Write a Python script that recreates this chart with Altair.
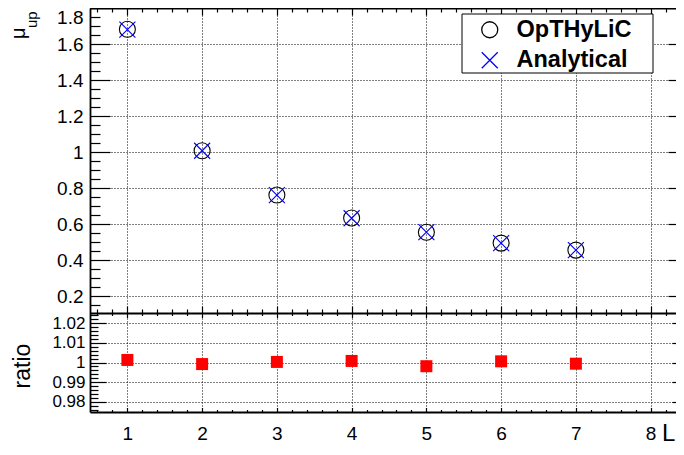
import altair as alt
import pandas as pd

# ---------------- data ----------------
categories = [1, 2, 3, 4, 5, 6, 7]
opthylic = [1.682, 1.007, 0.761, 0.633, 0.554, 0.494, 0.455]
analytical = [1.680, 1.007, 0.761, 0.632, 0.555, 0.494, 0.455]
ratio = [1.0013, 0.9992, 1.0003, 1.0008, 0.9981, 1.0006, 0.9994]
series_names = ["OpTHyLiC", "Analytical"]

x_major = [1, 2, 3, 4, 5, 6, 7, 8]
x_minor = [round(0.6 + 0.2 * i, 1) for i in range(40) if abs((0.6 + 0.2 * i) - round(0.6 + 0.2 * i)) > 1e-6]
top_major = [0.2, 0.4, 0.6, 0.8, 1.0, 1.2, 1.4, 1.6, 1.8]
top_minor = [round(0.15 + 0.05 * i, 2) for i in range(33) if abs(((0.15 + 0.05 * i) / 0.2) - round((0.15 + 0.05 * i) / 0.2)) > 1e-6]
bot_major = [0.98, 0.99, 1.0, 1.01, 1.02]
bot_minor = [round(0.976 + 0.002 * i, 3) for i in range(25) if abs(((0.976 + 0.002 * i) / 0.01) - round((0.976 + 0.002 * i) / 0.01)) > 1e-6]

df_top = pd.DataFrame({
    "x": categories + categories,
    "value": opthylic + analytical,
    "series": [series_names[0]] * len(categories) + [series_names[1]] * len(categories),
})
df_ratio = pd.DataFrame({"x": categories, "ratio": ratio})

# ---------------- geometry ----------------
W, H = 598, 404
DIV = 305
FONT = "Liberation Sans"
XPATH = "M-1,-1L1,1M-1,1L1,-1"

xscale = alt.Scale(domain=[0.5, 8.5], nice=False, zero=False)
ytop = alt.Scale(domain=[-0.444444, 1.8], nice=False, zero=False)
ybot = alt.Scale(domain=[0.974745, 1.180867], nice=False, zero=False)

TICK = dict(tickColor="black", tickWidth=1.2)


def xaxis(values, **kw):
    df = pd.DataFrame({"v": values})
    return alt.Chart(df).mark_point(opacity=0).encode(
        x=alt.X("v:Q", scale=xscale, axis=alt.Axis(values=values, title=None, **kw))
    )


def yaxis(values, scale, **kw):
    df = pd.DataFrame({"v": values})
    return alt.Chart(df).mark_point(opacity=0).encode(
        y=alt.Y("v:Q", scale=scale, axis=alt.Axis(values=values, title=None, **kw))
    )


def ticks_x(values, orient, offset, size, domain=False):
    kw = dict(orient=orient, offset=offset, labels=False, ticks=True, tickSize=size,
              grid=False, domain=domain, **TICK)
    if domain:
        kw.update(domainColor="black", domainWidth=1.8)
    return xaxis(values, **kw)


def ticks_y(values, scale, orient, offset, size):
    return yaxis(values, scale, orient=orient, offset=offset, labels=False, ticks=True,
                 tickSize=size, grid=False, domain=False, **TICK)


layers = []

# x labels + vertical grid
layers.append(xaxis(x_major, orient="bottom", labels=True, labelFont=FONT, labelFontSize=19,
                    labelColor="black", labelPadding=12, ticks=False, domain=False, grid=True,
                    gridColor="black", gridDash=[1, 2], gridWidth=1, format="d"))
# bottom frame (ticks inward)
layers.append(ticks_x(x_major, "top", -H, 4.5, domain=True))
layers.append(ticks_x(x_minor, "top", -H, 2.5))
# top frame
layers.append(ticks_x(x_major, "bottom", -H, 7, domain=True))
layers.append(ticks_x(x_minor, "bottom", -H, 4))
# divider: upper panel ticks (up)
layers.append(ticks_x(x_major, "top", -DIV, 7, domain=True))
layers.append(ticks_x(x_minor, "top", -DIV, 4))
# divider: lower panel ticks (down)
layers.append(ticks_x(x_major, "bottom", -(H - DIV), 4.5))
layers.append(ticks_x(x_minor, "bottom", -(H - DIV), 2.5))

# upper panel y axis
layers.append(yaxis(top_major, ytop, orient="left", labels=True, labelFont=FONT, labelFontSize=19,
                    labelColor="black", labelPadding=7, labelFlush=True, ticks=False, domain=True,
                    domainColor="black", domainWidth=1.8, grid=True, gridColor="black",
                    gridDash=[1, 2], gridWidth=1, format=".1~f"))
layers.append(ticks_y(top_major, ytop, "right", -W, 20))
layers.append(ticks_y(top_minor, ytop, "right", -W, 10))
layers.append(ticks_y(top_major, ytop, "left", -W, 20))
layers.append(ticks_y(top_minor, ytop, "left", -W, 10))

# lower panel y axis
layers.append(yaxis(bot_major, ybot, orient="left", labels=True, labelFont=FONT, labelFontSize=17,
                    labelColor="black", labelPadding=5, ticks=False, domain=False, grid=True,
                    gridColor="black", gridDash=[1, 2], gridWidth=1, format=".2~f"))
layers.append(ticks_y(bot_major, ybot, "right", -W, 16))
layers.append(ticks_y(bot_minor, ybot, "right", -W, 8))
layers.append(ticks_y(bot_major, ybot, "left", -W, 16))
layers.append(ticks_y(bot_minor, ybot, "left", -W, 8))

# legend box
one = pd.DataFrame({"a": [0]})
layers.append(alt.Chart(one).mark_rect(fill="white", stroke="black", strokeWidth=1).encode(
    x=alt.value(372), x2=alt.value(563), y=alt.value(6), y2=alt.value(65)))

legend = alt.Legend(orient="none", legendX=388, legendY=10, title=None, padding=0,
                    labelFont=FONT, labelFontWeight="bold", labelFontSize=23.5, labelColor="black",
                    labelOffset=15, rowPadding=5.5, symbolSize=256, symbolStrokeWidth=1.3,
                    labelLimit=400)

# data: upper panel
layers.append(alt.Chart(df_top).mark_point(filled=False, size=256, strokeWidth=1.1, opacity=1).encode(
    x=alt.X("x:Q", scale=xscale, axis=None),
    y=alt.Y("value:Q", scale=ytop, axis=None),
    color=alt.Color("series:N", scale=alt.Scale(domain=series_names, range=["black", "blue"]), legend=legend),
    shape=alt.Shape("series:N", scale=alt.Scale(domain=series_names, range=["circle", XPATH]), legend=legend),
))

# data: ratio panel
layers.append(alt.Chart(df_ratio).mark_square(size=144, color="red", opacity=1).encode(
    x=alt.X("x:Q", scale=xscale, axis=None),
    y=alt.Y("ratio:Q", scale=ybot, axis=None),
))

# axis titles as text
def label(txt, x, y, size, angle=None, align="left"):
    kw = dict(align=align, baseline="alphabetic", font=FONT, fontSize=size, color="black")
    if angle is not None:
        kw["angle"] = angle
    return alt.Chart(pd.DataFrame({"t": [txt]})).mark_text(**kw).encode(
        text="t:N", x=alt.value(x), y=alt.value(y))

layers.append(label("μ", -65.5, 31, 20, angle=270))
layers.append(label("up", -53, 20, 15, angle=270))
layers.append(label("ratio", -60.5, 358, 23, angle=270, align="center"))
layers.append(label("L", 572, 433, 24))

chart = alt.layer(*layers).resolve_scale(y="independent").resolve_axis(
    x="independent", y="independent"
).properties(
    width=W, height=H,
    padding={"left": 82, "top": 0, "right": -12, "bottom": 35},
    autosize=alt.AutoSizeParams(type="none"),
    background="white",
).configure_view(stroke=None)

chart.save("out.html", embed_options={"renderer": "svg", "actions": False})
